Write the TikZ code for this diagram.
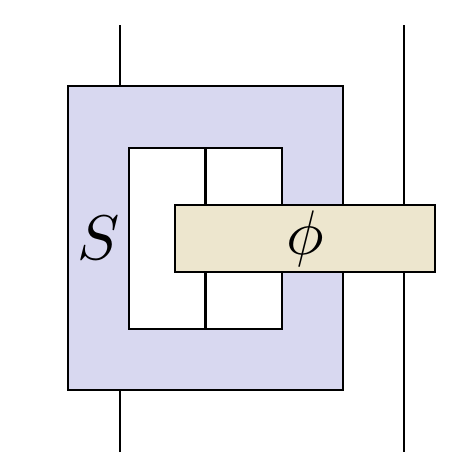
\documentclass[tikz,border=0pt]{standalone}
\usepackage{graphicx}
\definecolor{lavender}{RGB}{216,216,240}
\definecolor{parch}{RGB}{237,230,206}
\begin{document}
\begin{tikzpicture}[x=1pt,y=-1pt]
	\tikzstyle{Box} = [draw, line width=2.4pt, inner sep=0pt, outer sep=0pt]
	\tikzstyle{Wire} = [line width=2.4pt]
	\useasboundingbox (0,0) rectangle (472,474);
	\coordinate (t1) at (120,25);
	\coordinate (b1) at (120,452);
	\coordinate (t2) at (404,25);
	\coordinate (b2) at (404,452);
	\node (S) at (205.5,238) [Box, fill=lavender, minimum width=275, minimum height=304] {};
	\node (H) at (205.5,238.5) [Box, fill=white, minimum width=153, minimum height=181] {};
	\node (L) at (98.5,238) {\scalebox{6.3}{$S$}};
	\draw [Wire] (H.north) to (H.south);
	\draw [Wire] (t1) to (t1 |- S.north);
	\draw [Wire] (b1) to (b1 |- S.south);
	\draw [Wire] (t2) to (b2);
	\node (P) at (305,238.5) [Box, fill=parch, minimum width=260, minimum height=67] {\scalebox{6.3}{$\phi$}};
\end{tikzpicture}
\end{document}
